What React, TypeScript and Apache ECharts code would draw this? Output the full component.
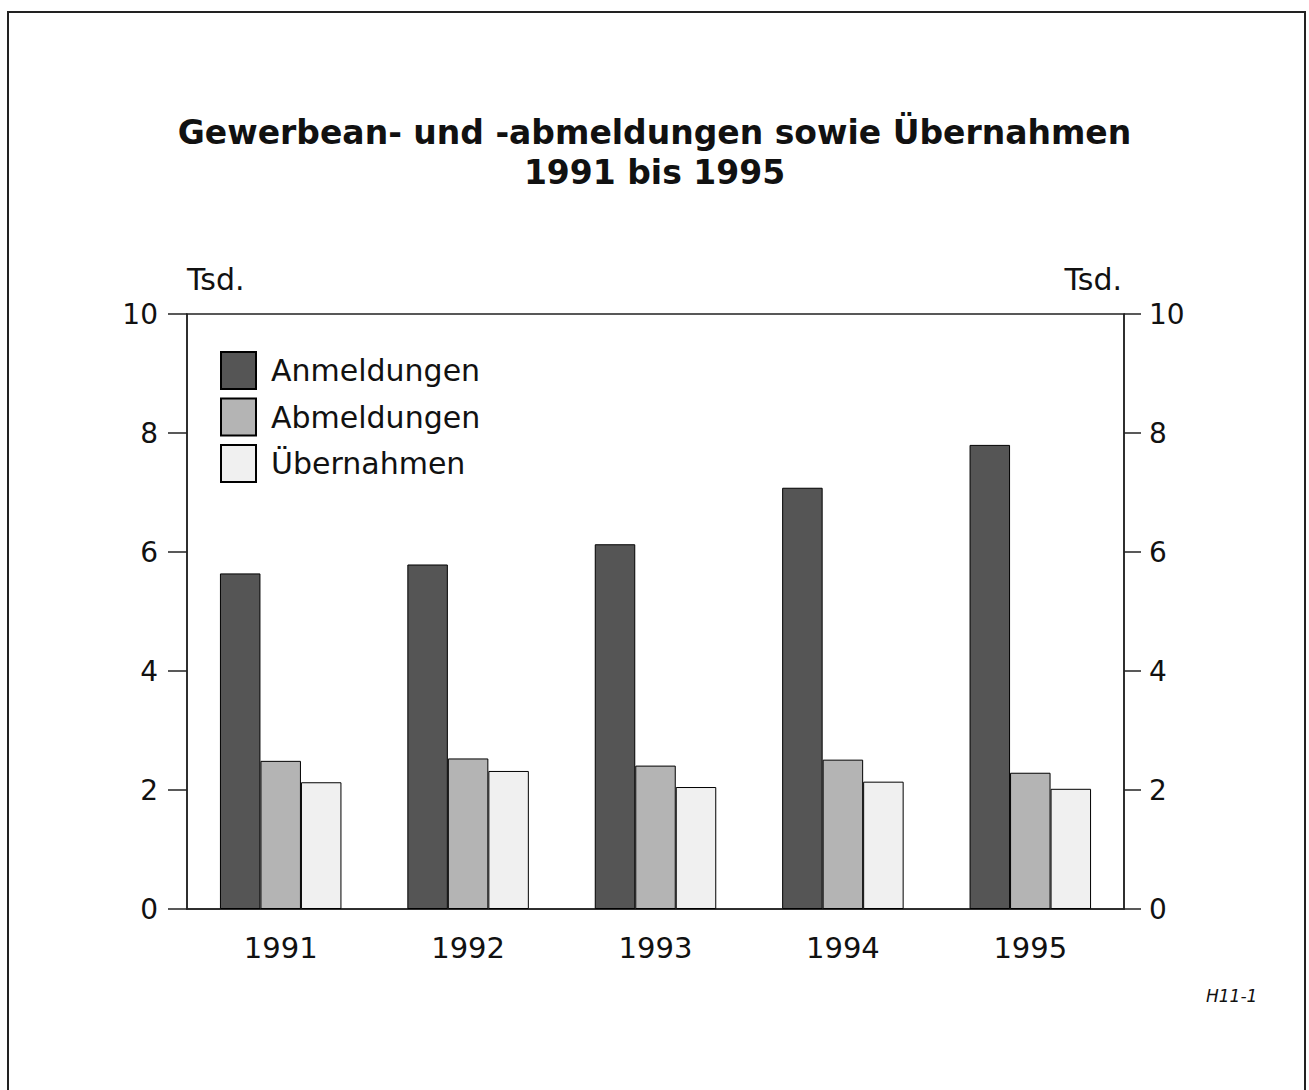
import React, { useEffect, useRef } from "react";
import * as echarts from "echarts";

const years = ["1991", "1992", "1993", "1994", "1995"];
const anmeldungen = [5.64, 5.79, 6.13, 7.08, 7.8];
const abmeldungen = [2.49, 2.53, 2.41, 2.51, 2.29];
const uebernahmen = [2.13, 2.32, 2.05, 2.14, 2.02];
const seriesNames = ["Anmeldungen", "Abmeldungen", "Übernahmen"];
const seriesColors = ["#555555", "#b4b4b4", "#f0f0f0"];
const titleText = "Gewerbean- und -abmeldungen sowie Übernahmen\n1991 bis 1995";
const unitLabel = "Tsd.";
const codeLabel = "H11-1";

const FONT = "'DejaVu Sans', 'Liberation Sans', sans-serif";
const INK = "#111";
const LINE = "#222";

export default function App() {
  const ref = useRef<HTMLDivElement>(null);
  useEffect(() => {
    if (!ref.current) return;
    const chart = echarts.init(ref.current, null, { renderer: "svg" });
    const values = [anmeldungen, abmeldungen, uebernahmen];
    const yAxisBase = (pos: "left" | "right", tickLen: number, margin: number) => ({
      type: "value",
      position: pos,
      min: 0,
      max: 10,
      interval: 2,
      splitLine: { show: false },
      axisLine: { show: true, lineStyle: { color: LINE, width: 1.5 } },
      axisTick: { show: true, length: tickLen, lineStyle: { color: LINE, width: 1.5 } },
      axisLabel: { fontSize: 28, fontFamily: FONT, color: INK, margin },
    });
    chart.setOption({
      animation: false,
      backgroundColor: "#fff",
      title: {
        text: titleText,
        left: "center",
        top: 112,
        padding: 0,
        textStyle: {
          fontSize: 33,
          fontWeight: "bold",
          fontFamily: FONT,
          color: INK,
          lineHeight: 40,
        },
      },
      legend: {
        orient: "vertical",
        left: 220,
        top: 351,
        padding: 0,
        icon: "rect",
        itemWidth: 35,
        itemHeight: 37,
        itemGap: 7.5,
        data: seriesNames,
        textStyle: { fontSize: 30, fontFamily: FONT, color: INK, padding: [0, 0, 0, 10] },
      },
      grid: {
        left: 187,
        right: 185,
        top: 314,
        bottom: 181,
        show: true,
        borderColor: LINE,
        borderWidth: 1.5,
        backgroundColor: "transparent",
      },
      xAxis: {
        type: "category",
        data: years,
        axisLine: { lineStyle: { color: LINE, width: 1.5 } },
        axisTick: { alignWithLabel: true, length: 12, lineStyle: { color: LINE, width: 1.5 } },
        axisLabel: { fontSize: 29, fontFamily: FONT, color: INK, margin: 24 },
      },
      yAxis: [yAxisBase("left", 19, 29), yAxisBase("right", 17, 25)],
      series: seriesNames.map((name, i) => ({
        name,
        type: "bar",
        yAxisIndex: 0,
        data: values[i],
        barWidth: 40.5,
        barGap: "0%",
        itemStyle: { color: seriesColors[i], borderColor: "#000", borderWidth: 1 },
      })),
      graphic: [
        {
          type: "rect",
          shape: { x: 8, y: 12, width: 1297, height: 1100 },
          style: { fill: "none", stroke: LINE, lineWidth: 2 },
          silent: true,
        },
        {
          type: "text",
          style: {
            x: 187,
            y: 279,
            text: unitLabel,
            font: `30px ${FONT}`,
            fill: INK,
            textAlign: "left",
            textVerticalAlign: "middle",
          },
        },
        {
          type: "text",
          style: {
            x: 1122,
            y: 279,
            text: unitLabel,
            font: `30px ${FONT}`,
            fill: INK,
            textAlign: "right",
            textVerticalAlign: "middle",
          },
        },
        {
          type: "text",
          style: {
            x: 1206,
            y: 996,
            text: codeLabel,
            font: `italic 17px ${FONT}`,
            fill: INK,
            textAlign: "left",
            textVerticalAlign: "middle",
          },
        },
      ],
    });
    return () => chart.dispose();
  }, []);
  return (
    <div
      ref={ref}
      style={{ position: "absolute", left: 0, top: 0, width: 1309, height: 1090 }}
    />
  );
}
